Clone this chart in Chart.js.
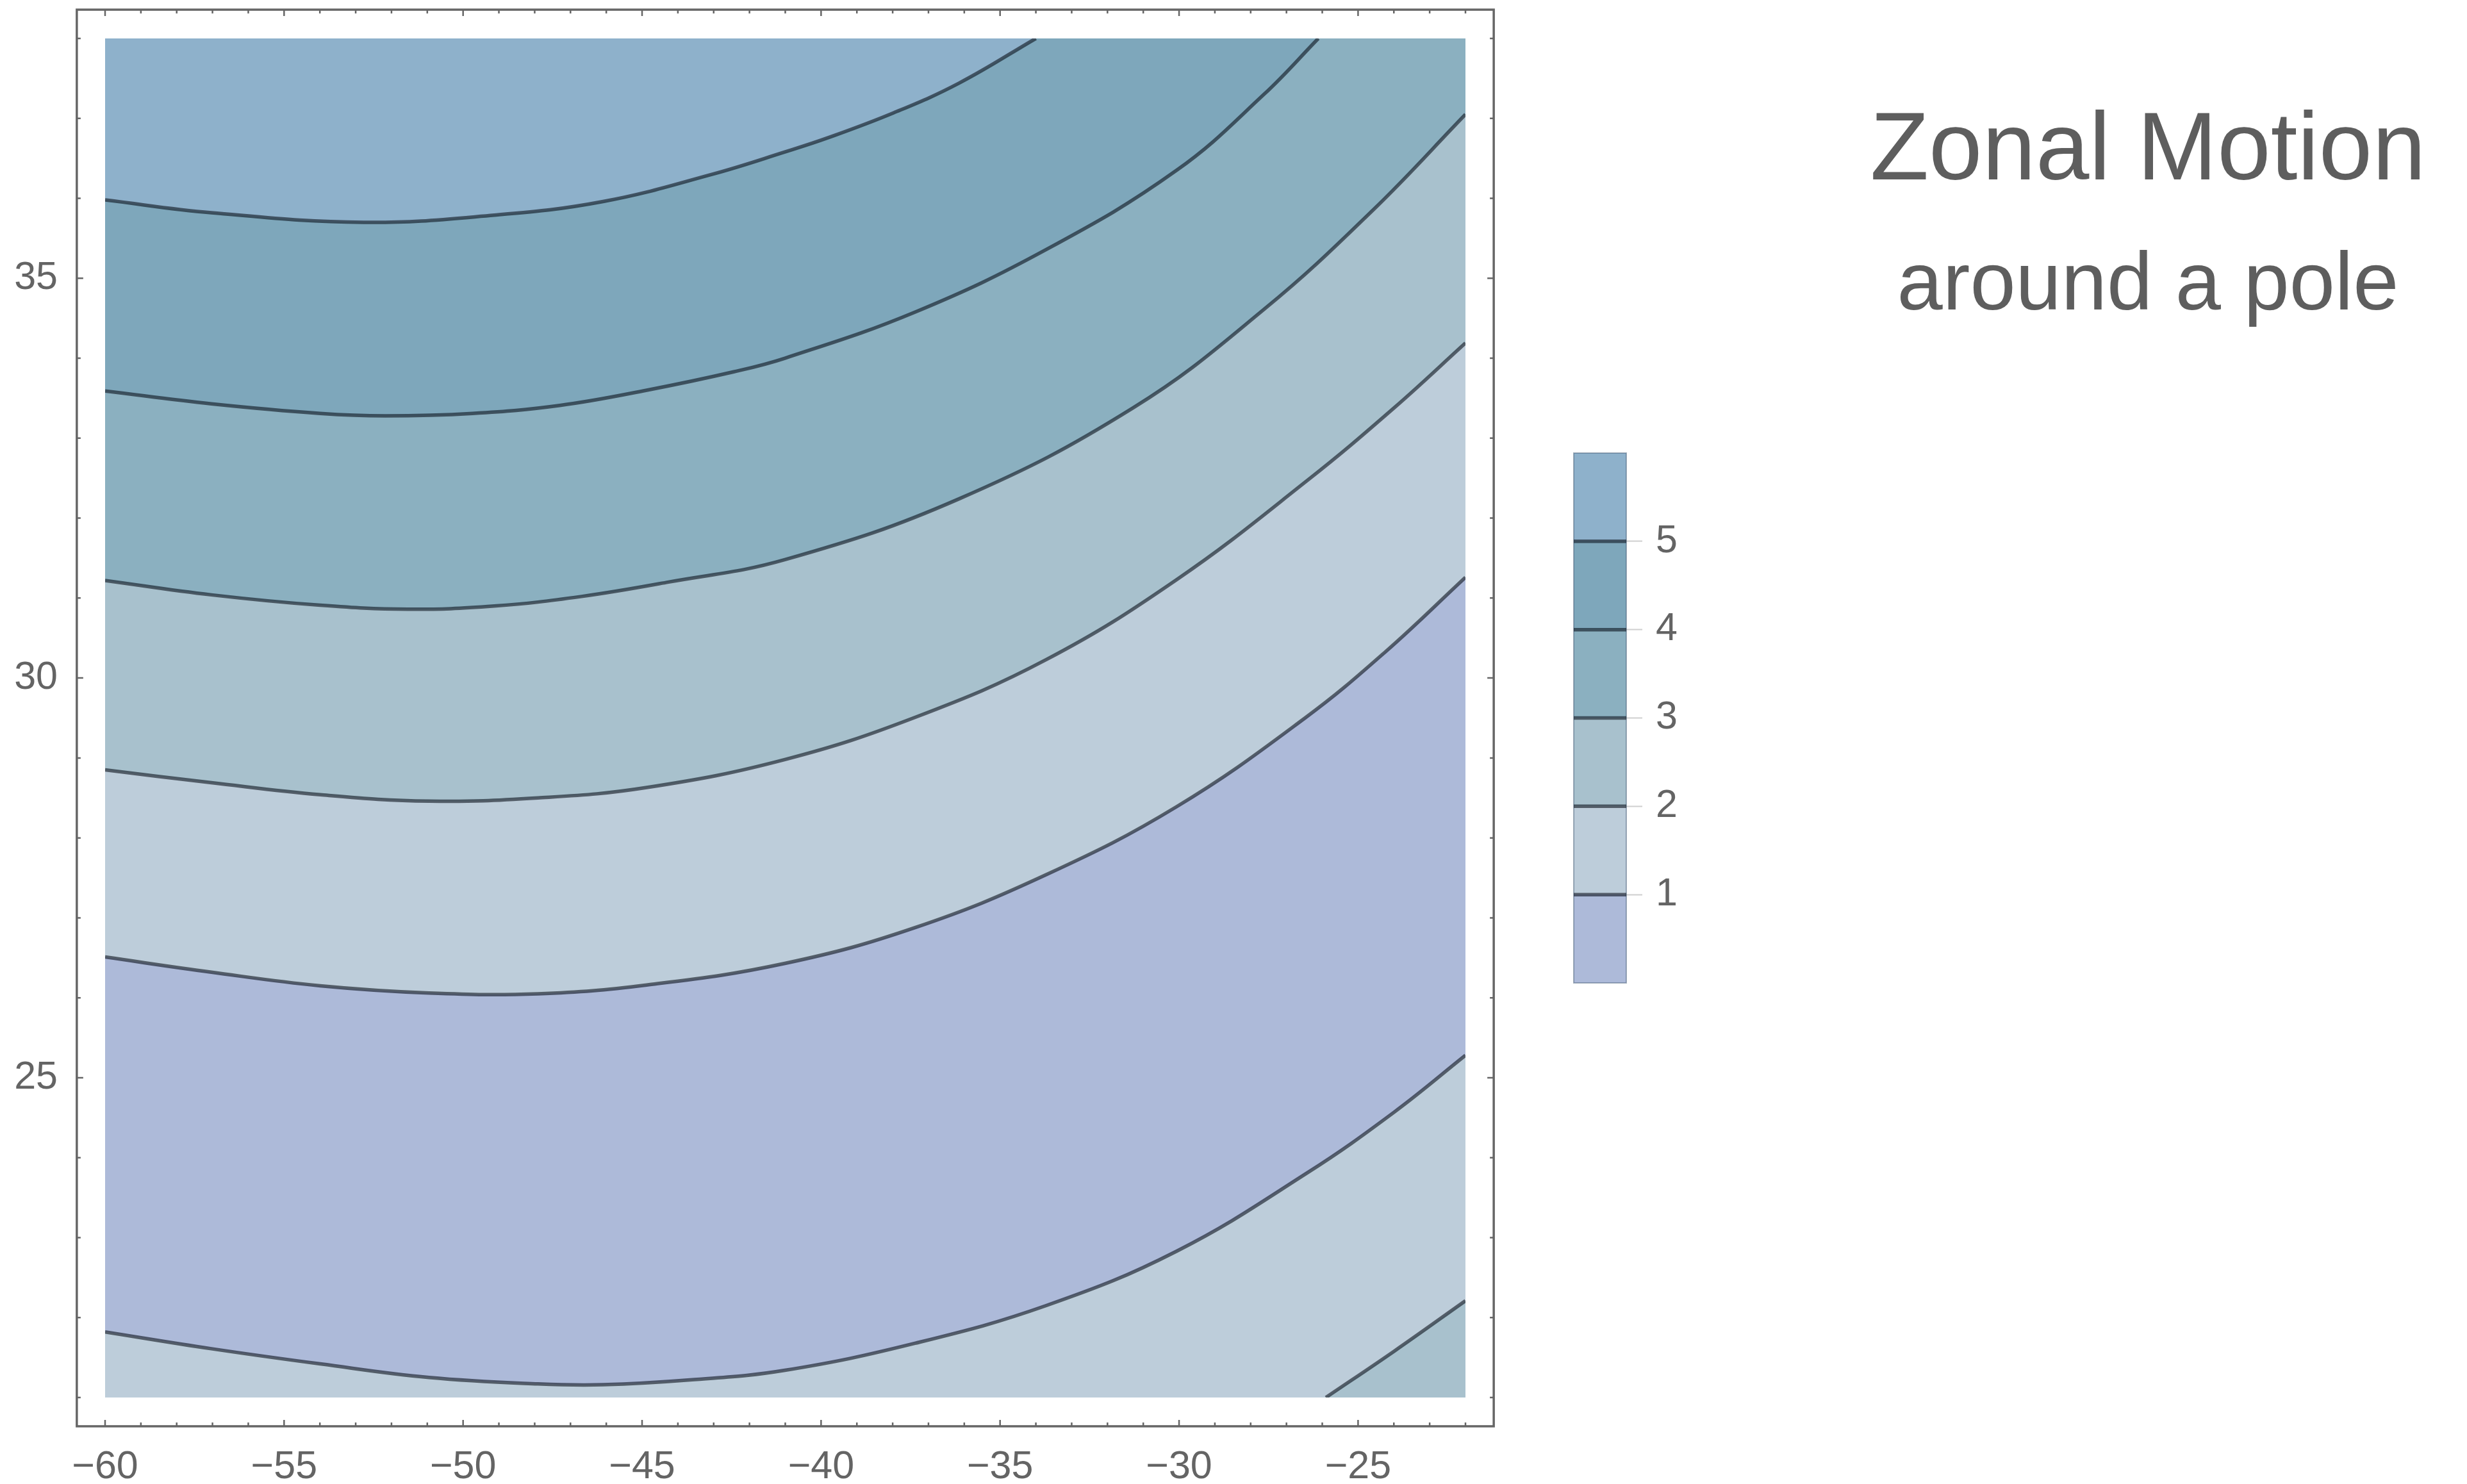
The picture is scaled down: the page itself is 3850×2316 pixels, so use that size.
<!DOCTYPE html>
<html>
<head>
<meta charset="utf-8">
<title>Zonal Motion</title>
<script src="https://cdn.jsdelivr.net/npm/chart.js@4.4.1/dist/chart.umd.min.js"></script>
<style>
  html, body { margin: 0; padding: 0; background: #fff; }
  body { width: 3850px; height: 2316px; position: relative; overflow: hidden;
         font-family: "Liberation Sans", Arial, Helvetica, sans-serif; }
  #plot { position: absolute; left: 0; top: 0; }
  #legend { position: absolute; left: 2400px; top: 600px; }
  .title { position: absolute; left: 2852px; width: 1000px; text-align: center;
           color: #5e5e5e; white-space: nowrap; line-height: 1; }
</style>
</head>
<body>
<canvas id="plot" width="2346" height="2316"></canvas>
<canvas id="legend" width="300" height="1050"></canvas>
<div class="title" style="top:153px; font-size:150px">Zonal Motion</div>
<div class="title" style="top:375px; font-size:128px">around a pole</div>
<script>
// plot range (lon, lat)
const xRange = [-60, -22]
const yRange = [21, 38]
const xMajorTicks = [-60, -55, -50, -45, -40, -35, -30, -25]
const yMajorTicks = [25, 30, 35]
const levels = [1, 2, 3, 4, 5]
const legendBands = [[0, 1], [1, 2], [2, 3], [3, 4], [4, 5], [5, 6]]
const bandColors = ['#adbad9', '#bdcdda', '#a8c1cd', '#8bb0c0', '#7ea7bb', '#8eb1cb']

// contour lines, [lon, lat]
const level5Upper = [[-60, 35.98], [-57.03, 35.82], [-52.78, 35.70], [-49.13, 35.79], [-46.09, 35.96],
  [-43.05, 36.30], [-41.01, 36.58], [-39.79, 36.76], [-37.97, 37.07], [-36.15, 37.44], [-34.0, 38]]
const level4Upper = [[-60, 33.59], [-57.03, 33.43], [-53.99, 33.31], [-52.17, 33.28], [-49.74, 33.31],
  [-47.30, 33.41], [-44.87, 33.60], [-42.44, 33.83], [-41.01, 34.00], [-37.36, 34.58], [-33.71, 35.36],
  [-30.07, 36.35], [-27.63, 37.30], [-26.11, 38]]
const level3Upper = [[-60, 31.22], [-57.03, 31.04], [-53.99, 30.91], [-51.56, 30.86], [-49.13, 30.90],
  [-46.69, 31.02], [-44.26, 31.20], [-41.01, 31.48], [-36.15, 32.24], [-31.28, 33.38], [-27.63, 34.61],
  [-24.59, 35.85], [-22, 37.05]]
const level2Upper = [[-60, 28.85], [-57.03, 28.69], [-53.99, 28.54], [-50.95, 28.46], [-47.91, 28.50],
  [-44.87, 28.63], [-41.01, 28.98], [-37.36, 29.51], [-33.71, 30.23], [-30.07, 31.23], [-26.42, 32.47],
  [-23.99, 33.38], [-22, 34.19]]
const level1Upper = [[-60, 26.51], [-57.03, 26.32], [-53.99, 26.15], [-50.95, 26.06], [-47.91, 26.05],
  [-44.87, 26.16], [-41.01, 26.43], [-37.36, 26.88], [-33.71, 27.54], [-30.07, 28.39], [-26.48, 29.50],
  [-24.23, 30.33], [-22, 31.26]]
const level1Lower = [[-60, 21.82], [-57.03, 21.61], [-53.99, 21.42], [-50.95, 21.25], [-47.91, 21.17],
  [-46.09, 21.16], [-43.66, 21.22], [-41.01, 21.34], [-37.36, 21.68], [-33.71, 22.15], [-30.07, 22.83],
  [-26.42, 23.81], [-23.99, 24.57], [-22, 25.28]]
const level2Lower = [[-25.90, 21], [-23.99, 21.58], [-22, 22.21]]

const lineColor = 'rgba(12, 18, 28, 0.6)'
const axisGray = '#666666'
const textGray = '#646464'
const fontFamily = '"Liberation Sans", Arial, Helvetica, sans-serif'
const framePad = { x: 0.79, y: 0.36 }   // frame sits a little outside the data box

const [xLo, xHi] = xRange
const [yLo, yHi] = yRange
const xy = pts => pts.map(([x, y]) => ({ x, y }))
const minus = v => (v < 0 ? '\u2212' + Math.abs(v) : String(v))

const curve = { pointRadius: 0, tension: 0.4 }

// bands: each filled from a contour line to the top/bottom edge, painted in this order
const bandFills = [
  { line: level1Lower, to: 'start', band: 1 },
  { line: level1Lower, to: 'end', band: 0 },
  { line: level1Upper, to: 'end', band: 1 },
  { line: level2Upper, to: 'end', band: 2 },
  { line: level3Upper, to: 'end', band: 3 },
  { line: level4Upper, to: 'end', band: 4 },
  { line: level5Upper, to: 'end', band: 5 },
  { line: level2Lower, to: 'start', band: 2 }
]
const contourLines = [level1Lower, level2Lower, level1Upper, level2Upper, level3Upper, level4Upper, level5Upper]

const datasets = [
  ...bandFills.map((f, i) => ({
    ...curve,
    data: xy(f.line),
    fill: f.to,
    backgroundColor: bandColors[f.band],
    borderColor: 'transparent',
    borderWidth: 0,
    order: 100 - i
  })),
  ...contourLines.map(l => ({
    ...curve,
    data: xy(l),
    fill: false,
    borderColor: lineColor,
    borderWidth: 5.5,
    order: 1
  }))
]

// frame with inward ticks on all four sides
const frameTicks = {
  id: 'frameTicks',
  afterDraw(chart) {
    const { ctx, scales: { x, y } } = chart
    const left = x.getPixelForValue(xLo - framePad.x)
    const right = x.getPixelForValue(xHi + framePad.x)
    const top = y.getPixelForValue(yHi + framePad.y)
    const bottom = y.getPixelForValue(yLo - framePad.y)
    ctx.save()
    ctx.strokeStyle = axisGray
    ctx.lineWidth = 3.5
    ctx.strokeRect(left, top, right - left, bottom - top)
    ctx.lineWidth = 2.5
    ctx.beginPath()
    for (let v = xLo; v <= xHi; v++) {
      const px = x.getPixelForValue(v)
      const len = xMajorTicks.includes(v) ? 10 : 6
      ctx.moveTo(px, bottom); ctx.lineTo(px, bottom - len)
      ctx.moveTo(px, top); ctx.lineTo(px, top + len)
    }
    for (let v = yLo; v <= yHi; v++) {
      const py = y.getPixelForValue(v)
      const len = yMajorTicks.includes(v) ? 10 : 6
      ctx.moveTo(left, py); ctx.lineTo(left + len, py)
      ctx.moveTo(right, py); ctx.lineTo(right - len, py)
    }
    ctx.stroke()
    ctx.restore()
  }
}

new Chart(document.getElementById('plot'), {
  type: 'line',
  data: { datasets },
  options: {
    responsive: false,
    animation: false,
    events: [],
    layout: { padding: { top: 60, right: 59, left: 0, bottom: 0 } },
    plugins: { legend: { display: false }, tooltip: { enabled: false } },
    scales: {
      x: {
        type: 'linear',
        min: xLo,
        max: xHi,
        afterBuildTicks: s => { s.ticks = xMajorTicks.map(v => ({ value: v })) },
        afterFit: s => { s.height = 135; s.paddingLeft = 0; s.paddingRight = 0 },
        grid: { display: false },
        border: { display: false },
        ticks: { color: textGray, padding: 65, maxRotation: 0, autoSkip: false,
                 font: { family: fontFamily, size: 61 }, callback: v => minus(v) }
      },
      y: {
        type: 'linear',
        min: yLo,
        max: yHi,
        afterBuildTicks: s => { s.ticks = yMajorTicks.map(v => ({ value: v })) },
        afterFit: s => { s.width = 164; s.paddingTop = 0; s.paddingBottom = 0 },
        grid: { display: false },
        border: { display: false },
        ticks: { color: textGray, padding: 66, autoSkip: false,
                 font: { family: fontFamily, size: 61 }, callback: v => minus(v) }
      }
    }
  },
  plugins: [frameTicks]
})

// bar legend: contour lines across the bar and a thin outline
const legendLines = {
  id: 'legendLines',
  afterDatasetsDraw(chart) {
    const { ctx, chartArea: a, scales: { y } } = chart
    ctx.save()
    ctx.strokeStyle = 'rgba(60, 85, 110, 0.45)'
    ctx.lineWidth = 2
    ctx.strokeRect(a.left, a.top, a.right - a.left, a.bottom - a.top)
    ctx.strokeStyle = lineColor
    ctx.lineWidth = 5.5
    ctx.beginPath()
    levels.forEach(l => {
      const py = y.getPixelForValue(l)
      ctx.moveTo(a.left, py); ctx.lineTo(a.right, py)
    })
    ctx.stroke()
    ctx.restore()
  }
}

new Chart(document.getElementById('legend'), {
  type: 'bar',
  data: {
    labels: [''],
    datasets: legendBands.map((b, i) => ({
      data: [b],
      backgroundColor: bandColors[i],
      borderWidth: 0,
      grouped: false,
      barPercentage: 1,
      categoryPercentage: 1
    }))
  },
  options: {
    responsive: false,
    animation: false,
    events: [],
    layout: { padding: { left: 56, top: 107, bottom: 116, right: 0 } },
    plugins: { legend: { display: false }, tooltip: { enabled: false } },
    scales: {
      x: { display: false },
      y: {
        position: 'right',
        min: 0,
        max: 6,
        afterBuildTicks: s => { s.ticks = levels.map(v => ({ value: v })) },
        afterFit: s => { s.width = 162 },
        grid: { drawOnChartArea: false, drawTicks: true, tickLength: 25, tickColor: '#cfcfcf', tickWidth: 2 },
        border: { display: false },
        ticks: { color: textGray, padding: 21, font: { family: fontFamily, size: 61 } }
      }
    }
  },
  plugins: [legendLines]
})
</script>
</body>
</html>
